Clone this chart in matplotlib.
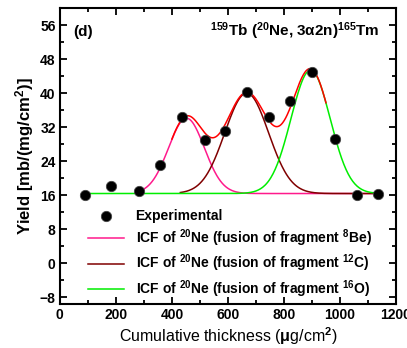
import numpy as np
import matplotlib.pyplot as plt
from matplotlib.ticker import MultipleLocator

plt.rcParams['font.family'] = ['Liberation Sans', 'DejaVu Sans']
plt.rcParams['font.weight'] = 'bold'
plt.rcParams['mathtext.fontset'] = 'custom'
plt.rcParams['mathtext.rm'] = 'Liberation Sans:bold'
plt.rcParams['mathtext.it'] = 'Liberation Sans:bold'
plt.rcParams['mathtext.bf'] = 'Liberation Sans:bold'
plt.rcParams['mathtext.default'] = 'rm'

# experimental points
thickness = [89, 182, 282, 357, 436, 518, 589, 667, 747, 821, 900, 982, 1060, 1135]
yield_exp = [16.0, 18.1, 17.0, 23.1, 34.3, 28.9, 31.0, 40.2, 34.3, 38.1, 44.9, 29.1, 16.0, 16.2]

# gaussian fit components: centre, amplitude, sigma (baseline shared)
baseline = 16.4
frag_labels = ['$^{8}$Be', '$^{12}$C', '$^{16}$O']
centres = [452, 667, 895]
amps = [17.7, 23.6, 29.0]
sigmas = [64, 78, 70]
x_start = [280, 430, 90]
colors = ['#ff1a8c', '#800000', '#00ee00']


def gauss(x, c, a, s):
    return a * np.exp(-(x - c) ** 2 / (2 * s ** 2))


fig = plt.figure(figsize=(4.07, 3.48), dpi=100)
ax = fig.add_axes([0.147, 0.126, 0.826, 0.851])

# sum of components
xs = np.linspace(400, 950, 300)
total = baseline + sum(gauss(xs, c, a, s) for c, a, s in zip(centres, amps, sigmas))

handles = []
for c, a, s, x0, col, lab in zip(centres, amps, sigmas, x_start, colors, frag_labels):
    xx = np.linspace(x0, 1140, 400)
    h, = ax.plot(xx, baseline + gauss(xx, c, a, s), color=col, lw=1.1,
                 label='ICF of $^{20}$Ne (fusion of fragment ' + lab + ')')
    handles.append(h)

ax.plot(xs, total, color='red', lw=1.1)

pts = ax.scatter(thickness, yield_exp, s=55, color='black', edgecolor='#444444',
                 linewidth=0.6, zorder=5, label='Experimental')

ax.legend([pts] + handles, [pts.get_label()] + [h.get_label() for h in handles],
          loc='lower left', bbox_to_anchor=(0.06, -0.015), frameon=False,
          fontsize=10, handlelength=2.6, labelspacing=0.3, scatterpoints=1,
          borderaxespad=0.2)

ax.set_xlim(0, 1200)
ax.set_ylim(-9.6, 60)
ax.xaxis.set_major_locator(MultipleLocator(200))
ax.xaxis.set_minor_locator(MultipleLocator(100))
ax.yaxis.set_major_locator(MultipleLocator(8))
ax.yaxis.set_minor_locator(MultipleLocator(4))
ax.tick_params(which='both', direction='in', top=True, right=True, labelsize=10, width=1.3)
ax.tick_params(which='major', length=5, pad=3)
ax.tick_params(which='minor', length=3)
for sp in ax.spines.values():
    sp.set_linewidth(1.5)

ax.set_xlabel('Cumulative thickness ($\\mu$g/cm$^{2}$)', fontsize=11.5, fontweight='normal',
              labelpad=2)
ax.set_ylabel('Yield [mb/(mg/cm$^{2}$)]', fontsize=12, fontweight='bold', labelpad=3)

ax.text(0.04, 0.92, '(d)', transform=ax.transAxes, fontsize=11, va='center')
ax.text(0.95, 0.92, '$^{159}$Tb ($^{20}$Ne, 3$\\alpha$2n)$^{165}$Tm', transform=ax.transAxes,
        fontsize=11, ha='right', va='center')

fig.savefig('out.png', dpi=100)
